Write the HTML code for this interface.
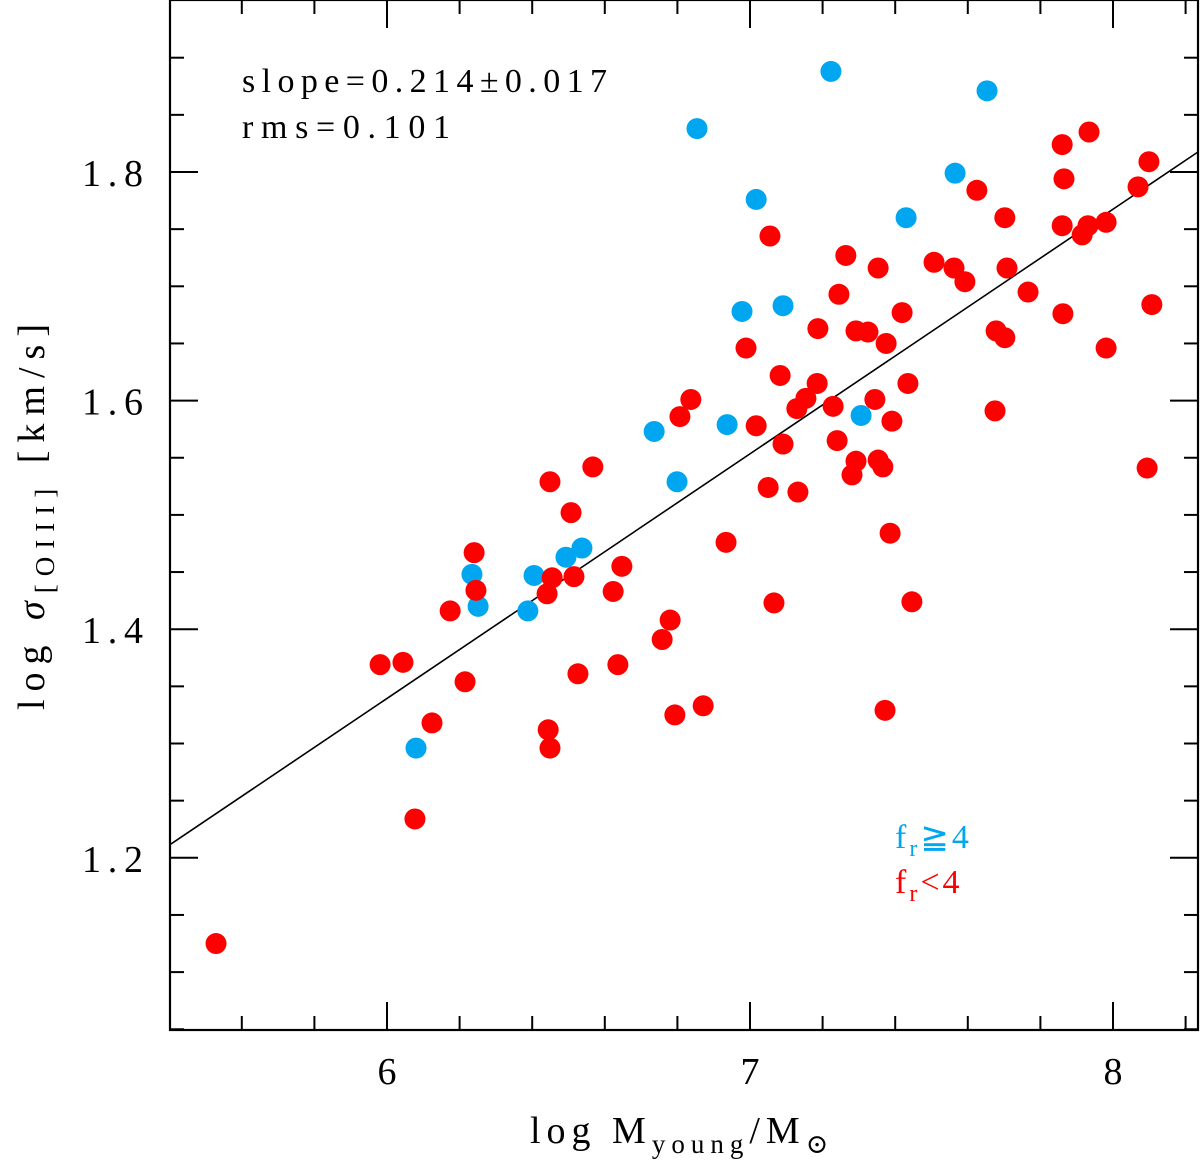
<!DOCTYPE html>
<html><head><meta charset="utf-8"><style>
html,body{margin:0;padding:0;background:#fff}
svg text{font-family:"Liberation Serif","DejaVu Serif",serif}
</style></head><body>
<svg id="chart" width="1200" height="1161" viewBox="0 0 1200 1161" xmlns="http://www.w3.org/2000/svg">
<g id="ticks"></g>
<line id="fit" stroke="#000" stroke-width="1.6"/>
<g id="pts"></g>
<rect x="170" y="0" width="1028" height="1030" fill="none" stroke="#000" stroke-width="2.2"/>
<g id="xl" font-size="38" text-anchor="middle"></g>
<g id="yl" font-size="38"></g>
<text x="242" y="92" font-size="34" textLength="365" lengthAdjust="spacing">slope=0.214±0.017</text>
<text x="242" y="138" font-size="34" textLength="208" lengthAdjust="spacing">rms=0.101</text>
<text x="895" y="848" font-size="34" fill="#00a6f0" letter-spacing="3">f<tspan font-size="24" dy="8">r</tspan><tspan dy="-8">≧4</tspan></text>
<text x="895" y="893" font-size="34" fill="#f00" letter-spacing="3">f<tspan font-size="24" dy="8">r</tspan><tspan dy="-8">&lt;4</tspan></text>
<text x="530" y="1143" font-size="38" letter-spacing="6">log M<tspan font-size="27" dy="10">young</tspan><tspan dy="-10">/M</tspan><tspan font-size="27" dy="10">⊙</tspan></text>
<text transform="translate(44,710) rotate(-90)" font-size="38" letter-spacing="8">log <tspan font-style="italic">σ</tspan><tspan font-size="27" dy="10">[OIII]</tspan><tspan dy="-10"> [km/s]</tspan></text>
</svg>
<script>
const blueX=[7.223,7.653,6.854,7.565,7.017,7.430,6.978,7.091,6.736,6.937,6.799,7.306,6.537,6.493,6.405,6.234,6.251,6.388,6.080];
const blueY=[1.888,1.871,1.838,1.799,1.776,1.760,1.678,1.683,1.573,1.579,1.529,1.587,1.471,1.463,1.447,1.448,1.420,1.416,1.296];
const redX=[5.529,5.981,6.044,6.124,6.077,6.174,6.215,6.240,6.245,6.449,6.507,6.567,6.455,6.441,6.515,6.444,6.449,6.526,6.623,6.647,6.636,6.758,6.780,6.793,6.807,6.837,6.871,6.934,6.989,7.017,7.055,7.050,7.066,7.083,7.091,7.129,7.154,7.185,7.187,7.132,7.229,7.240,7.245,7.264,7.292,7.325,7.292,7.281,7.344,7.353,7.375,7.353,7.366,7.386,7.391,7.372,7.419,7.435,7.446,7.507,7.562,7.592,7.625,7.702,7.708,7.678,7.702,7.675,7.766,7.860,7.865,7.860,7.862,7.915,7.934,7.931,7.981,7.981,8.069,8.099,8.107,8.094];
const redY=[1.125,1.369,1.371,1.318,1.234,1.416,1.354,1.467,1.434,1.529,1.502,1.542,1.445,1.431,1.446,1.312,1.296,1.361,1.433,1.455,1.369,1.391,1.408,1.325,1.586,1.601,1.333,1.476,1.646,1.578,1.744,1.524,1.423,1.622,1.562,1.593,1.602,1.615,1.663,1.520,1.595,1.565,1.693,1.727,1.661,1.660,1.547,1.535,1.601,1.716,1.650,1.548,1.542,1.484,1.582,1.329,1.677,1.615,1.424,1.721,1.716,1.704,1.784,1.760,1.716,1.661,1.655,1.591,1.695,1.824,1.794,1.753,1.676,1.745,1.835,1.753,1.756,1.646,1.787,1.809,1.684,1.541];
const xTickLabels=["6","7","8"];
const yTickLabels=["1.2","1.4","1.6","1.8"];
const fitSlope=0.214, fitIntercept=1.8175-0.214*8.234;
const NS="http://www.w3.org/2000/svg";
const X=v=>387+(v-6)*363, Y=v=>172-(v-1.8)*1143;
const x0=5.402,x1=8.234,y0=1.0495,y1=1.95;
function mk(t,p,a){const e=document.createElementNS(NS,t);for(const k in a)e.setAttribute(k,a[k]);p.appendChild(e);return e;}
const tk=document.getElementById('ticks');
for(let i=28;i<=41;i++){const v=i*0.2;if(v<x0||v>x1)continue;const maj=Math.abs(v-Math.round(v))<1e-6;const L=maj?28:14;const px=X(v);
 const a=mk('line',tk,{x1:px,x2:px,y1:1030,y2:1030-L,stroke:'#000','stroke-width':2});
 const b=mk('line',tk,{x1:px,x2:px,y1:0,y2:L,stroke:'#000','stroke-width':2});}
for(let i=21;i<=39;i++){const v=i*0.05;if(v<y0||v>y1)continue;const maj=Math.abs(v/0.2-Math.round(v/0.2))<1e-6;const L=maj?28:14;const py=Y(v);
 const a=mk('line',tk,{x1:170,x2:170+L,y1:py,y2:py,stroke:'#000','stroke-width':2});
 const b=mk('line',tk,{x1:1198,x2:1198-L,y1:py,y2:py,stroke:'#000','stroke-width':2});}
const xl=document.getElementById('xl');
xTickLabels.forEach(s=>{const t=mk('text',xl,{x:X(+s),y:1084});t.textContent=s;});
const yl=document.getElementById('yl');
yTickLabels.forEach(s=>{const t=mk('text',yl,{x:82,y:Y(+s)+14,textLength:61,lengthAdjust:'spacing'});t.textContent=s;});
const f=document.getElementById('fit');
f.setAttribute('x1',X(x0));f.setAttribute('y1',Y(fitIntercept+fitSlope*x0));f.setAttribute('x2',X(x1));f.setAttribute('y2',Y(fitIntercept+fitSlope*x1));
const pts=document.getElementById('pts');
blueX.forEach((v,i)=>{const c=mk('circle',pts,{cx:X(v),cy:Y(blueY[i]),r:10.5,fill:'#00a6f0'});});
redX.forEach((v,i)=>{const c=mk('circle',pts,{cx:X(v),cy:Y(redY[i]),r:10.5,fill:'#f00'});});
</script>
</body></html>
